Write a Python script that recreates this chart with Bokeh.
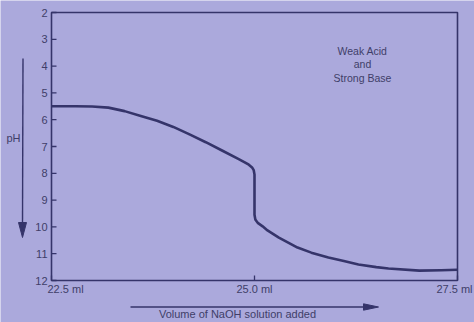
from bokeh.plotting import figure
from bokeh.models import Range1d
from bokeh.core.properties import value
from bokeh.embed import file_html
from bokeh.resources import INLINE

# --- data ---
volume = [22.5, 22.8, 23.0, 23.2, 23.4, 23.6, 23.8, 24.0, 24.2, 24.4, 24.6, 24.8,
          24.88, 24.93, 24.97, 24.99, 25.0, 25.0, 25.01, 25.04, 25.1, 25.16, 25.3,
          25.53, 25.7, 25.91, 26.1, 26.28, 26.5, 26.65, 27.03, 27.3, 27.5]
ph = [5.5, 5.5, 5.51, 5.55, 5.68, 5.86, 6.04, 6.27, 6.55, 6.84, 7.15, 7.46,
      7.59, 7.68, 7.78, 7.88, 8.05, 9.55, 9.72, 9.85, 9.98, 10.13, 10.4,
      10.77, 10.96, 11.14, 11.27, 11.4, 11.5, 11.55, 11.63, 11.62, 11.6]
x_ticks = [22.5, 25.0, 27.5]
x_tick_labels = ["22.5 ml", "25.0 ml", "27.5 ml"]
y_ticks = [2, 3, 4, 5, 6, 7, 8, 9, 10, 11, 12]
y_tick_labels = [str(t) for t in y_ticks]
note_lines = ["Weak Acid", "and", "Strong Base"]
x_title = "Volume of NaOH solution added"
y_title = "pH"

BG = "#aba9dc"
INK = "#35346a"
TXT = "#403e68"
FONT = value("Liberation Sans")

W, H = 474, 322
# pixel layout of the chart box inside the canvas
BOX_L, BOX_R, BOX_T, BOX_B = 51, 457, 12, 280
sx = (x_ticks[-1] - x_ticks[0]) / (BOX_R - BOX_L)
sy = (y_ticks[-1] - y_ticks[0]) / (BOX_B - BOX_T)


def X(px):
    return x_ticks[0] + (px - BOX_L) * sx


def Y(py):
    return y_ticks[0] + (py - BOX_T) * sy


p = figure(width=W, height=H, output_backend="svg", toolbar_location=None,
           x_range=Range1d(X(0), X(W)), y_range=Range1d(Y(H), Y(0)),
           x_axis_location=None, y_axis_location=None, min_border=0)
p.background_fill_color = BG
p.border_fill_color = BG
p.outline_line_color = None
p.grid.visible = False

# chart box
p.quad(left=[x_ticks[0]], right=[x_ticks[-1]], top=[y_ticks[0]], bottom=[y_ticks[-1]],
       fill_color=None, line_color=INK, line_width=1.6)

# y ticks (inside) and labels
ny = len(y_ticks)
p.segment(x0=[x_ticks[0]] * ny, y0=y_ticks, x1=[X(BOX_L + 5)] * ny, y1=y_ticks,
          line_color=INK, line_width=1.3)
p.text(x=[X(BOX_L - 4)] * ny, y=y_ticks, text=y_tick_labels, text_align="right",
       text_baseline="middle", text_font=FONT, text_font_size="11px", text_color=TXT)

# x ticks (inside) and labels
nx = len(x_ticks)
p.segment(x0=x_ticks, y0=[y_ticks[-1]] * nx, x1=x_ticks, y1=[Y(BOX_B - 5)] * nx,
          line_color=INK, line_width=1.3)
for v, t in zip(x_ticks, x_tick_labels):
    if v == x_ticks[0]:
        align, off = "left", -4
    elif v == x_ticks[-1]:
        align, off = "center", -3
    else:
        align, off = "center", 0
    p.text(x=[v], y=[Y(288)], text=[t], text_align=align, text_baseline="middle",
           x_offset=off, text_font=FONT, text_font_size="11px", text_color=TXT)

# titration curve
p.line(volume, ph, line_color=INK, line_width=2.6, line_join="round")

# note
p.text(x=[X(362)] * len(note_lines), y=[Y(50), Y(63.5), Y(77)], text=note_lines,
       text_align="center", text_baseline="middle", text_font=FONT,
       text_font_size="10.5px", text_color=TXT)

# x title with arrow
p.text(x=[X(237)], y=[Y(313)], text=[x_title], text_align="center",
       text_baseline="middle", text_font=FONT, text_font_size="11px", text_color=TXT)
p.segment(x0=[X(130)], y0=[Y(306.5)], x1=[X(366)], y1=[Y(306.5)],
          line_color=INK, line_width=1.4)
p.patch(x=[X(378), X(363), X(363)], y=[Y(306.5), Y(303.3), Y(309.7)],
        fill_color=INK, line_color=INK, line_width=1)

# y title with arrow
p.text(x=[X(13)], y=[Y(137)], text=[y_title], text_align="center",
       text_baseline="middle", text_font=FONT, text_font_size="11px", text_color=TXT)
p.segment(x0=[X(22.5)], y0=[Y(58)], x1=[X(22)], y1=[Y(226)],
          line_color=INK, line_width=1.4)
p.patch(x=[X(22), X(18), X(26)], y=[Y(237), Y(222), Y(222)],
        fill_color=INK, line_color=INK, line_width=1)

open("out.html", "w").write(file_html(p, INLINE))
